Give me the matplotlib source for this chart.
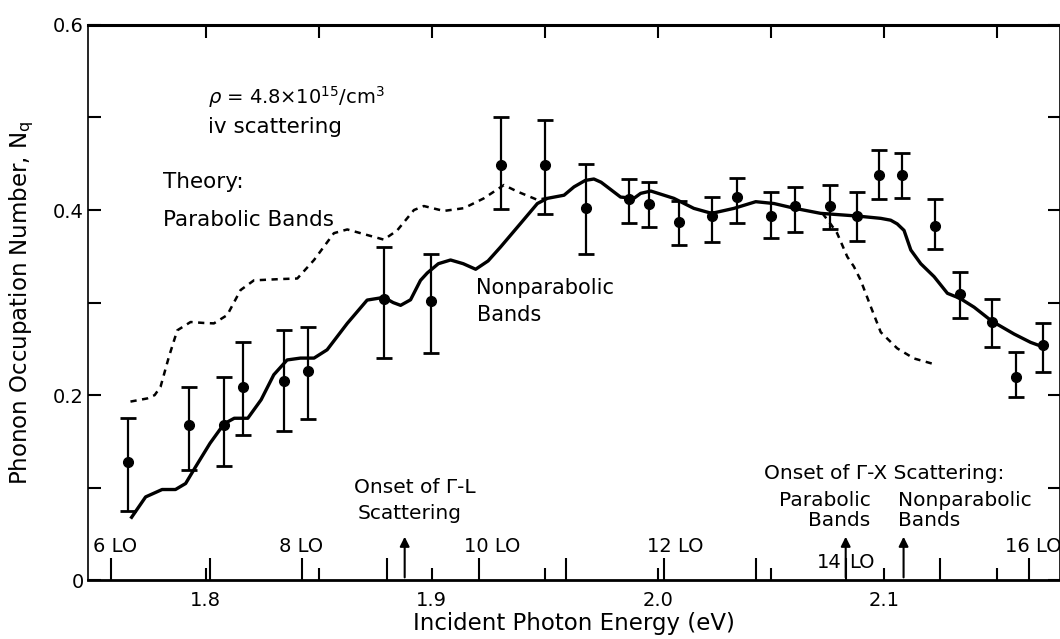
import matplotlib
matplotlib.use("Agg")
import matplotlib.pyplot as plt

# measured points (energy in eV, occupation number, error bar top / bottom)
energy = [1.7656, 1.7925, 1.8080, 1.8167, 1.8347, 1.8454, 1.8789, 1.8996,
          1.9305, 1.9501, 1.9685, 1.9873, 1.9962, 2.0094, 2.0239, 2.0352,
          2.0500, 2.0608, 2.0762, 2.0883, 2.0980, 2.1080, 2.1227, 2.1338,
          2.1478, 2.1587, 2.1706]
nq = [0.128, 0.168, 0.168, 0.209, 0.215, 0.226, 0.304, 0.302,
      0.449, 0.449, 0.402, 0.412, 0.406, 0.387, 0.393, 0.414,
      0.393, 0.404, 0.404, 0.393, 0.438, 0.438, 0.383, 0.309,
      0.279, 0.220, 0.254]
nq_top = [0.1755, 0.209, 0.220, 0.257, 0.270, 0.274, 0.360, 0.352,
          0.501, 0.497, 0.450, 0.434, 0.430, 0.410, 0.414, 0.435,
          0.419, 0.425, 0.427, 0.419, 0.465, 0.462, 0.412, 0.333,
          0.304, 0.247, 0.278]
nq_bot = [0.0746, 0.119, 0.123, 0.157, 0.161, 0.174, 0.240, 0.246,
          0.401, 0.396, 0.352, 0.386, 0.382, 0.362, 0.365, 0.386,
          0.370, 0.376, 0.379, 0.367, 0.412, 0.413, 0.358, 0.283,
          0.252, 0.198, 0.225]

# theory, nonparabolic bands (solid)
nonpar_e = [1.7673, 1.7735, 1.7808, 1.7867, 1.7912, 1.7956, 1.8020, 1.8082,
            1.8127, 1.8187, 1.8246, 1.8302, 1.8361, 1.8420, 1.8480, 1.8538,
            1.8627, 1.8715, 1.8789, 1.8830, 1.8863, 1.8907, 1.8951, 1.8981,
            1.9030, 1.9084, 1.9140, 1.9195, 1.9250, 1.9305, 1.9394, 1.9468,
            1.9512, 1.9586, 1.9630, 1.9680, 1.9718, 1.9750, 1.9777, 1.9836,
            1.9895, 1.9925, 1.9970, 2.0072, 2.0160, 2.0239, 2.0338, 2.0434,
            2.0515, 2.0603, 2.0721, 2.0883, 2.0987, 2.1031, 2.1060, 2.1090,
            2.1120, 2.1164, 2.1223, 2.1282, 2.1338, 2.1400, 2.1478, 2.1577,
            2.1650, 2.1706]
nonpar_n = [0.068, 0.090, 0.098, 0.098, 0.1045, 0.1225, 0.148, 0.169,
            0.175, 0.175, 0.195, 0.222, 0.238, 0.240, 0.240, 0.249,
            0.2775, 0.3027, 0.3056, 0.300, 0.297, 0.303, 0.324, 0.332,
            0.342, 0.346, 0.342, 0.336, 0.345, 0.360, 0.3856, 0.407,
            0.4126, 0.416, 0.425, 0.432, 0.4335, 0.430, 0.425, 0.414,
            0.4126, 0.418, 0.4205, 0.4126, 0.4018, 0.3964, 0.4018, 0.409,
            0.407, 0.402, 0.3964, 0.3935, 0.391, 0.389, 0.385, 0.378,
            0.3568, 0.342, 0.328, 0.310, 0.3045, 0.295, 0.280, 0.266,
            0.257, 0.252]

# theory, parabolic bands (dashed) - low part and the tail after it leaves the solid curve
par_e = [1.7668, 1.7742, 1.7775, 1.7801, 1.7838, 1.7875, 1.7934, 1.7990,
         1.8037, 1.8096, 1.8155, 1.8214, 1.8332, 1.8406, 1.8480, 1.8568,
         1.8627, 1.8715, 1.8789, 1.8848, 1.8922, 1.8966, 1.9054, 1.9143,
         1.9231, 1.9320, 1.9379, 1.9468, 1.9510]
par_n = [0.193, 0.1964, 0.200, 0.209, 0.2414, 0.270, 0.279, 0.278,
         0.2775, 0.2865, 0.3135, 0.324, 0.3254, 0.326, 0.346, 0.375,
         0.379, 0.373, 0.368, 0.378, 0.400, 0.4043, 0.399, 0.402,
         0.4126, 0.427, 0.420, 0.411, 0.413]
par_tail_e = [2.0729, 2.0765, 2.0794, 2.0839, 2.0868, 2.0898, 2.0943, 2.0987,
              2.1060, 2.1134, 2.1215]
par_tail_n = [0.3964, 0.385, 0.375, 0.3495, 0.339, 0.3243, 0.2955, 0.268,
              0.2505, 0.2396, 0.234]

# n LO phonon energies (tall ticks on the bottom axis)
lo_e = [1.7584, 1.8018, 1.8425, 1.8805, 1.9208, 1.9593, 2.0027, 2.0434,
        2.0832, 2.1248, 2.1642]
lo_labels = {1.7602: "6 LO", 1.8423: "8 LO", 1.9270: "10 LO", 2.0080: "12 LO", 2.1660: "16 LO"}

onset_gl = 1.8881
onset_gx_par = 2.0832
onset_gx_nonpar = 2.1088

fig = plt.figure(figsize=(10.6, 6.39), dpi=100)
ax = fig.add_axes([0.083, 0.092, 0.917, 0.869])

ax.plot(nonpar_e, nonpar_n, color="black", lw=2.4, zorder=3)
ax.plot(par_e, par_n, color="black", lw=1.8, ls=(0, (2.5, 2.2)), zorder=2)
ax.plot(par_tail_e, par_tail_n, color="black", lw=1.8, ls=(0, (2.5, 2.2)), zorder=2)

lo_err = [n - b for n, b in zip(nq, nq_bot)]
hi_err = [t - n for n, t in zip(nq, nq_top)]
ax.errorbar(energy, nq, yerr=[lo_err, hi_err], fmt="o", color="black", ms=7,
            capsize=6, elinewidth=1.6, capthick=2.0, zorder=4)

# LO phonon tick marks
ax.vlines(lo_e, 0, 0.024, color="black", lw=1.5)
for x, s in lo_labels.items():
    ax.text(x, 0.036, s, ha="center", va="center", fontsize=14)
ax.text(2.0815, 0.0195, "14", ha="right", va="center", fontsize=14)
ax.text(2.0848, 0.0195, "LO", ha="left", va="center", fontsize=14)

# onset arrows
arr = dict(arrowstyle="-|>", color="black", lw=1.5, mutation_scale=14)
for x in [onset_gl, onset_gx_par, onset_gx_nonpar]:
    ax.annotate("", xy=(x, 0.050), xytext=(x, 0.0), arrowprops=arr)

fs = 14.5
ax.text(1.8655, 0.1005, "Onset of Γ-L", ha="left", va="center", fontsize=fs)
ax.text(1.8672, 0.072, "Scattering", ha="left", va="center", fontsize=fs)
ax.text(2.0469, 0.1157, "Onset of Γ-X Scattering:", ha="left", va="center", fontsize=fs)
ax.text(2.0942, 0.0865, "Parabolic", ha="right", va="center", fontsize=fs)
ax.text(2.0942, 0.065, "Bands", ha="right", va="center", fontsize=fs)
ax.text(2.1062, 0.0865, "Nonparabolic", ha="left", va="center", fontsize=fs)
ax.text(2.1062, 0.065, "Bands", ha="left", va="center", fontsize=fs)

ax.text(1.8009, 0.522, r"$\rho$ = 4.8×10$^{15}$/cm$^3$", ha="left", va="center", fontsize=14)
ax.text(1.8009, 0.490, "iv scattering", ha="left", va="center", fontsize=15.5)
ax.text(1.7814, 0.430, "Theory:", ha="left", va="center", fontsize=15.5)
ax.text(1.7814, 0.389, "Parabolic Bands", ha="left", va="center", fontsize=15.5)
ax.text(1.9195, 0.3157, "Nonparabolic", ha="left", va="center", fontsize=15)
ax.text(1.9200, 0.2865, "Bands", ha="left", va="center", fontsize=15)

ax.set_xlim(1.748, 2.178)
ax.set_ylim(0, 0.6)
ax.set_xticks([1.8, 1.9, 2.0, 2.1])
ax.set_xticklabels(["1.8", "1.9", "2.0", "2.1"])
ax.set_xticks([1.85, 1.95, 2.05, 2.15], minor=True)
ax.set_yticks([0, 0.2, 0.4, 0.6])
ax.set_yticklabels(["0", "0.2", "0.4", "0.6"])
ax.set_yticks([0.1, 0.3, 0.5], minor=True)
ax.tick_params(which="both", direction="in", top=True, right=True, length=9,
               width=1.5, labelsize=14)
ax.tick_params(axis="x", pad=8)
ax.tick_params(axis="y", pad=3)

ax.spines["top"].set_linewidth(2.2)
ax.spines["bottom"].set_linewidth(2.0)
ax.spines["left"].set_linewidth(1.2)
ax.spines["right"].set_linewidth(1.2)

ax.set_xlabel("Incident Photon Energy (eV)", fontsize=16.5, labelpad=1)
ax.set_ylabel("Phonon Occupation Number, N$_\\mathregular{q}$", fontsize=16.5, labelpad=12)

fig.savefig("out.png", dpi=100)
